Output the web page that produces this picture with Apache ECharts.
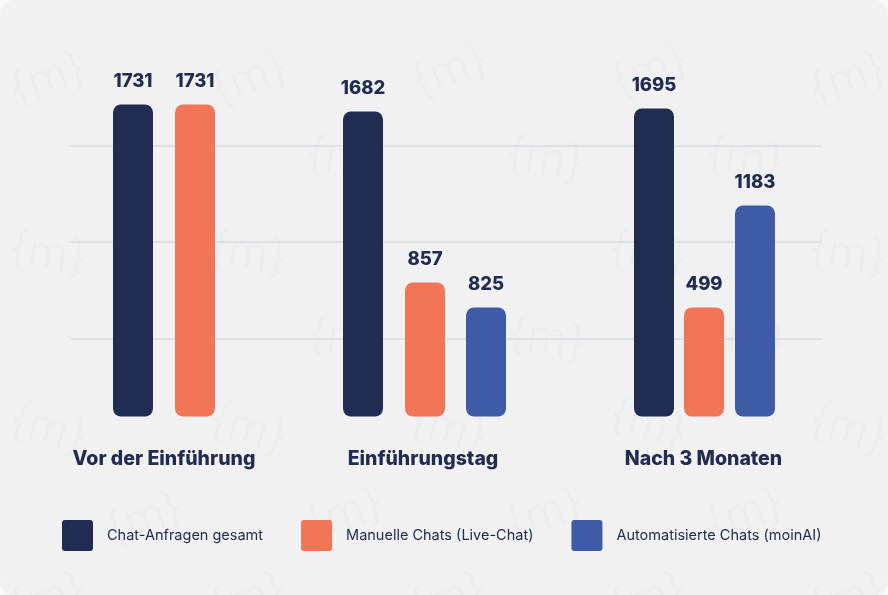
<!DOCTYPE html>
<html><head><meta charset="utf-8">
<style>html,body{margin:0;padding:0;background:#fafafa}#c{width:888px;height:595px;border-radius:14px;overflow:hidden}</style>
<script src="https://cdn.jsdelivr.net/npm/echarts@6/dist/echarts.min.js"></script>
</head><body><div id="c"></div>
<script>
const categories = ['Vor der Einführung', 'Einführungstag', 'Nach 3 Monaten'];
const seriesNames = ['Chat-Anfragen gesamt', 'Manuelle Chats (Live-Chat)', 'Automatisierte Chats (moinAI)'];
// Printed values
const totalLabels = [1731, 1682, 1695];
const manualLabels = [1731, 857, 499];
const autoLabels = [null, 825, 1183];
// Bar heights as drawn in the picture (the source graphic is not to scale with its printed values)
const totalHeights = [312, 305, 308];
const manualHeights = [312, 134, 109];
const autoHeights = [null, 109, 211];
// Layout of the uneven groups along the x axis
const totalX = [133, 363, 654];
const manualX = [195, 425, 704];
const autoX = [null, 486, 755];
const groupX = [164, 423, 703.5];
const gridValues = [77.5, 174.5, 270.5];

const colors = ['#212c52', '#f17557', '#3f5ba6'];
const ink = '#212c52';
const font = 'Inter';
const legendIcon = 'path://M3,0H28A3,3 0 0 1 31,3V28A3,3 0 0 1 28,31H3A3,3 0 0 1 0,28V3A3,3 0 0 1 3,0Z';

const marks = [
 [48,80,.35],[250,80,.35],[450,72,.35],[650,72,.35],[848,80,.35],
 [345,160,-.15],[545,160,-.15],[745,160,-.15],
 [48,255,-.15],[248,255,-.15],[648,255,-.15],[848,255,-.15],
 [347,340,-.15],[547,340,-.15],[747,340,-.15],
 [48,430,-.3],[248,430,-.3],[448,430,-.3],[648,425,-.3],[848,430,-.3],
 [145,520,.35],[345,515,.35],[545,515,.35],[745,515,.35],
 [48,600,.3],[248,600,.3],[448,600,.3],[648,600,.3],[848,600,.3]
];

function makeSeries(i, hs, xs, labels){
  return {
    type:'bar', name:seriesNames[i], barWidth:40, barGap:'-100%',
    data: hs.map((h,k)=> h==null ? null : [xs[k], h]).filter(Boolean),
    itemStyle:{color:colors[i], borderRadius:8},
    z:3,
    label:{show:true, position:'top', distance:14, color:ink, fontFamily:font, fontWeight:800, fontSize:18.5,
      formatter:p=>String(labels.filter(v=>v!=null)[p.dataIndex])}
  };
}

const chart = echarts.init(document.getElementById('c'), null, {renderer:'canvas'});
chart.setOption({
  animation:false,
  backgroundColor:'#f1f1f1',
  textStyle:{fontFamily:font},
  grid:{left:70, right:66, top:16.5, bottom:178.5},
  xAxis:{type:'value', min:70, max:822, splitLine:{show:false}, axisLine:{show:false}, axisTick:{show:false},
    axisLabel:{customValues:groupX, margin:32.5, color:ink, fontFamily:font, fontWeight:800, fontSize:19.5,
      formatter:v=>categories[groupX.indexOf(v)]}},
  yAxis:{type:'value', min:0, max:400, axisLine:{show:false}, axisLabel:{show:false},
    axisTick:{show:false, customValues:gridValues},
    splitLine:{show:true, lineStyle:{color:'#dddfe2', width:2}}},
  legend:{left:57, top:515, itemWidth:31, itemHeight:31, itemGap:38, icon:legendIcon,
    textStyle:{color:ink, fontFamily:font, fontSize:14.5, padding:[0,0,0,9]}, data:seriesNames},
  graphic:marks.map(m=>({type:'text', x:m[0], y:m[1], rotation:m[2], originX:0, originY:0, silent:true, z:0,
    style:{text:'{m}', fill:'#ecedef', font:'300 46px '+font, align:'center', verticalAlign:'middle'}})),
  series:[
    makeSeries(0,totalHeights,totalX,totalLabels),
    makeSeries(1,manualHeights,manualX,manualLabels),
    makeSeries(2,autoHeights,autoX,autoLabels)
  ]
});
</script></body></html>
